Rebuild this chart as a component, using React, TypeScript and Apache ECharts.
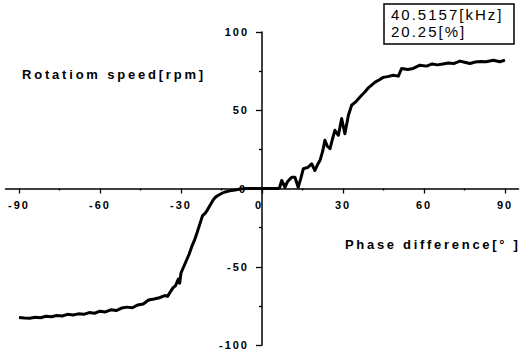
import React, { useEffect, useRef } from "react";
import * as echarts from "echarts";

// Phase difference [deg] and rotation speed [rpm]
const phase: number[] = [
  -90, -88, -86, -84, -82, -80, -78, -76, -74, -72, -70, -68, -66, -64, -62, -60,
  -58, -56, -54, -52, -50, -48, -46, -44, -42, -40, -38, -36, -35, -34, -33, -32,
  -31, -30.5, -30, -29, -28, -27, -26, -25, -24, -23, -22, -21, -20, -19, -18, -17,
  -16, -15, -14, -12, -10, -8, -6, -4, -2, 0, 2, 4, 6,
  6.5, 7.3, 8.5, 9.5, 11, 12.2, 13.4, 14.3, 15.3, 17, 18.4, 19.6, 20.5, 21.5, 22.5,
  23.3, 24.2, 25.2, 26, 27, 28.3, 29.5, 30.7, 32, 33.2, 34.8, 36.3, 38, 39.5, 41.9,
  43.5, 44.9, 46.5, 48.6, 50.5, 51.7, 54, 56, 58.5, 61, 63, 65, 67, 69, 71, 73.3,
  75, 77, 79, 81, 83, 85.7, 88.1, 90,
];
const speed: number[] = [
  -82.5, -82.8, -82.9, -82.3, -82.6, -81.6, -81.9, -81.2, -81.5, -80.4, -80.8, -80.1,
  -80.4, -79.3, -79.7, -78.4, -78.9, -77.5, -78.0, -76.4, -75.8, -76.2, -74.4, -73.8,
  -71.2, -70.6, -69.8, -68.4, -68.9, -66.2, -63.5, -62.0, -57.9, -60.5, -54, -50,
  -46, -42, -37, -33, -28, -22.6, -17.3, -15.8, -13, -10, -7, -5.2, -4.2, -3.2,
  -2.4, -1.5, -0.9, -0.3, 0, 0, 0, 0, 0, 0, 0,
  0.5, 5.1, 0.8, 4.5, 7.2, 7.2, 0.8, 6, 12.6, 13.5, 15.8, 11.5, 15, 18, 24,
  30.8, 27, 25.4, 31, 37.2, 34, 44.7, 35, 46.8, 53.2, 55.5, 58.5, 61.5, 64.5, 68,
  69.5, 71, 71.5, 72.4, 71.8, 76.7, 76.0, 76.7, 78.8, 78.2, 79.6, 79.0, 79.5, 80.2,
  79.8, 81.4, 80.7, 79.9, 80.8, 81.2, 81.0, 82, 81, 82,
];

const xLabels: number[] = [-90, -60, -30, 30, 60, 90];
const xOriginLabel: number[] = [0];
const xMajorTicks: number[] = [-90, -60, -30, 0, 30, 60, 90];
const xMinorTicks: number[] = [-75, -45, -15, 15, 45, 75];
const yLabels: number[] = [-100, -50, 50, 100];
const yOriginLabel = 0;
const yMajorTicks: number[] = [-100, -50, 0, 50, 100];
const yMinorTicks: number[] = [-75, -25, 25, 75];

const yTitle = "Rotatiom speed[rpm]";
const xTitle = "Phase difference[° ]";
const boxLines: string[] = ["40.5157[kHz]", "20.25[%]"];

const FONT = "'Liberation Sans', Arial, sans-serif";

const GRID_LEFT = 5.5;
const GRID_RIGHT = 6.5;
const GRID_TOP = 32;
const GRID_BOTTOM = 6;
const W = 525;
const H = 351;

export default function App() {
  const ref = useRef<HTMLDivElement>(null);
  useEffect(() => {
    if (!ref.current) return;
    const el = ref.current;
    const chart = echarts.init(el, undefined, { renderer: "svg" });
    const data = phase.map((p, i) => [p, speed[i]]);
    const gridW = W - GRID_LEFT - GRID_RIGHT;
    const gridH = H - GRID_TOP - GRID_BOTTOM;
    const labelStyle = {
      color: "#000",
      fontSize: 11,
      fontWeight: "bold",
      fontFamily: FONT,
    };
    const tickLine = { color: "#000", width: 1.3 };
    const xBase = {
      type: "value",
      min: -95,
      max: 95,
      position: "bottom",
      offset: -gridH / 2,
      splitLine: { show: false },
    };
    const yBase = {
      type: "value",
      min: -100,
      max: 100,
      interval: 25,
      position: "left",
      offset: -gridW / 2,
      splitLine: { show: false },
    };
    chart.setOption({
      animation: false,
      backgroundColor: "#fff",
      grid: {
        left: GRID_LEFT,
        right: GRID_RIGHT,
        top: GRID_TOP,
        bottom: GRID_BOTTOM,
        containLabel: false,
        outerBoundsMode: "none",
      },
      xAxis: [
        {
          ...xBase,
          axisLine: { onZero: false, lineStyle: { color: "#000", width: 1.5 } },
          axisTick: { show: true, customValues: xMajorTicks, length: 5, lineStyle: tickLine },
          axisLabel: { customValues: xLabels, margin: 11, ...labelStyle },
        },
        {
          ...xBase,
          axisLine: { show: false, onZero: false },
          axisTick: { show: true, customValues: xMinorTicks, length: 2, lineStyle: tickLine },
          axisLabel: { customValues: xOriginLabel, margin: 11, padding: [0, 6, 0, 0], ...labelStyle },
        },
      ],
      yAxis: [
        {
          ...yBase,
          axisLine: { show: true, onZero: false, lineStyle: { color: "#000", width: 1.5 } },
          axisTick: { show: true, customValues: yMajorTicks, length: 6, lineStyle: tickLine },
          axisLabel: { customValues: yLabels, margin: 13, ...labelStyle },
        },
        {
          ...yBase,
          axisLine: { show: false, onZero: false },
          axisTick: { show: true, customValues: yMinorTicks, length: 3, lineStyle: tickLine },
          axisLabel: { show: false },
        },
      ],
      series: [
        {
          type: "line",
          xAxisIndex: 0,
          yAxisIndex: 0,
          data,
          showSymbol: false,
          symbol: "none",
          lineStyle: { color: "#000", width: 3, join: "round" },
          z: 5,
        },
      ],
    });

    // y-axis origin label, positioned through the chart's own scales
    const o = chart.convertToPixel({ gridIndex: 0 }, [0, yOriginLabel]) as number[];
    chart.setOption({
      graphic: [
        {
          type: "text",
          x: o[0] - 15,
          y: o[1],
          z: 20,
          style: {
            text: String(yOriginLabel),
            fill: "#000",
            font: `bold 11px ${FONT}`,
            align: "right",
            verticalAlign: "middle",
          },
        },
        {
          type: "text",
          left: 22,
          top: 68,
          style: { text: yTitle, fill: "#000", font: `bold 13px ${FONT}` },
        },
        {
          type: "text",
          left: 345,
          top: 238,
          style: { text: xTitle, fill: "#000", font: `bold 13px ${FONT}` },
        },
        {
          type: "rect",
          shape: { x: 384, y: 4, width: 130, height: 40 },
          style: { fill: "#fff", stroke: "#000", lineWidth: 1.5 },
          z: 10,
        },
        {
          type: "text",
          x: 391,
          y: 7,
          z: 11,
          style: { text: boxLines[0], fill: "#000", font: `15px ${FONT}` },
        },
        {
          type: "text",
          x: 391,
          y: 24,
          z: 11,
          style: { text: boxLines[1], fill: "#000", font: `15px ${FONT}` },
        },
      ],
    });

    const spacing = () => {
      el.querySelectorAll("text").forEach((t) => {
        const s = t.textContent || "";
        let ls = "2px";
        if (s === yTitle) ls = "2.8px";
        else if (s === xTitle) ls = "2.7px";
        (t as SVGTextElement).style.letterSpacing = ls;
      });
    };
    chart.on("finished", spacing);
    spacing();
    const timer = setTimeout(spacing, 50);
    return () => {
      clearTimeout(timer);
      chart.dispose();
    };
  }, []);
  return (
    <>
      <style>{`.chart-root text { letter-spacing: 2px; } body { margin: 0; }`}</style>
      <div
        ref={ref}
        className="chart-root"
        style={{ position: "fixed", left: 0, top: 0, width: W, height: H }}
      />
    </>
  );
}
